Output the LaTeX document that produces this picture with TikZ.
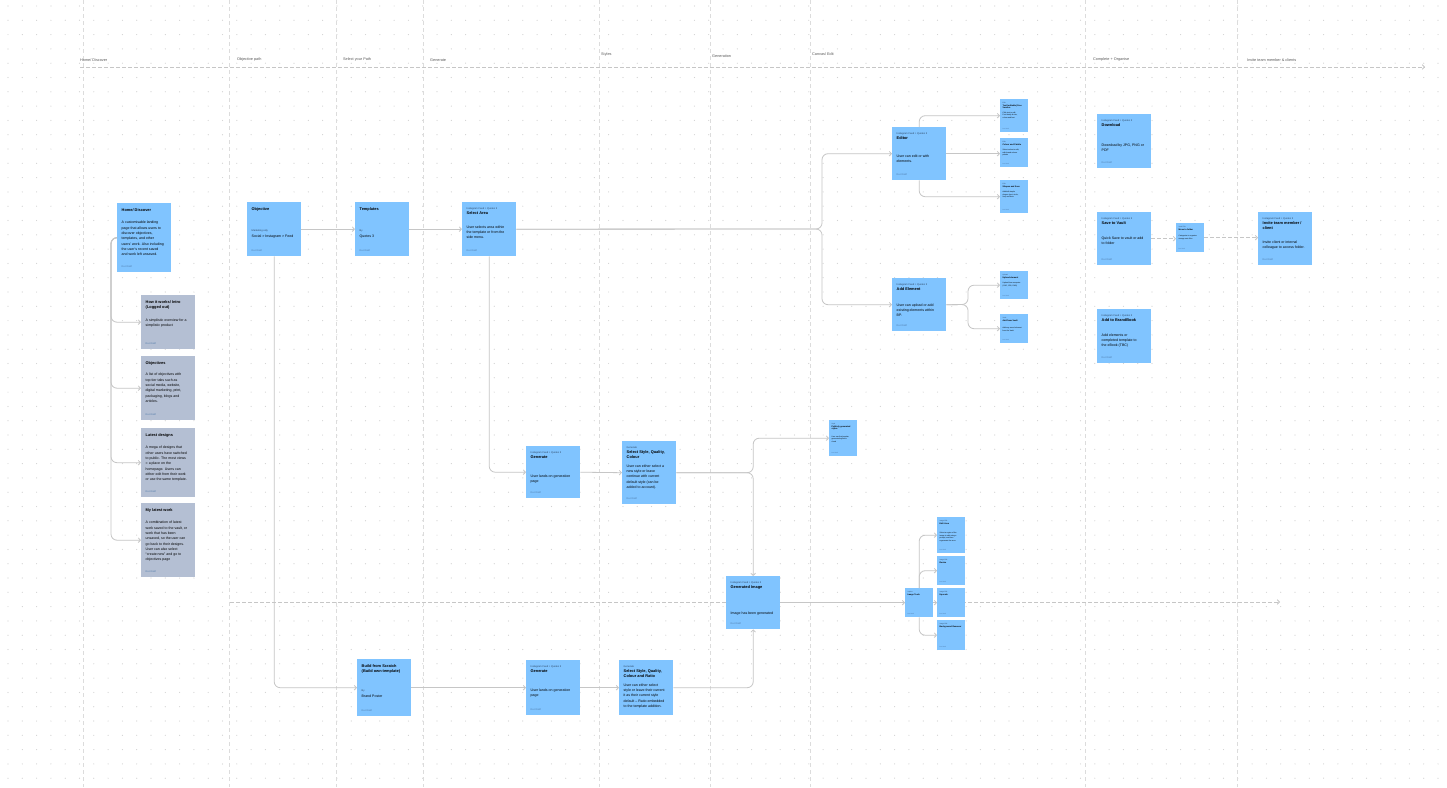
\documentclass[tikz,border=0pt]{standalone}
\usepackage{fontspec}
\setmainfont{Liberation Sans}
\usetikzlibrary{arrows.meta}
\definecolor{stblue}{HTML}{80C4FF}
\definecolor{stgray}{HTML}{B4BFD3}
\definecolor{lanec}{HTML}{DCDCDC}
\definecolor{conncol}{HTML}{C6C6C6}
\definecolor{dotc}{HTML}{D2D2D2}
\definecolor{hdc}{HTML}{2E4663}
\definecolor{ftc}{HTML}{4A76A6}
\newcommand\fixsp{\spaceskip=0pt\xspaceskip=0pt\relax}
\newcommand\sHd[1]{{\fontsize{2.5}{3.2}\selectfont\fixsp\color{hdc}#1\par}}
\newcommand\sTl[1]{{\fontsize{3.9}{5.2}\selectfont\fixsp\bfseries #1\par}}
\newcommand\sBd[1]{{\fontsize{3.55}{5.3}\selectfont\fixsp #1\par}}
\newcommand\xHd[1]{{\fontsize{1.6}{2.1}\selectfont\fixsp\color{hdc}#1\par}}
\newcommand\xTl[1]{{\fontsize{2.1}{2.7}\selectfont\fixsp\bfseries #1\par}}
\newcommand\xBd[1]{{\fontsize{1.8}{2.5}\selectfont\fixsp #1\par}}
\tikzset{
  stbox/.style={anchor=north west, minimum width=54, inner sep=0, draw=none},
  sttxt/.style={anchor=north west, inner sep=0, text width=50pt, align=flush left},
  stfoot/.style={anchor=south west, inner sep=0, font=\fontsize{2.4}{3}\selectfont, text=ftc},
  ssbox/.style={anchor=north west, minimum width=28, inner sep=0, draw=none, fill=stblue},
  sstxt/.style={anchor=north west, inner sep=0, text width=24pt, align=flush left},
  ssfoot/.style={anchor=south west, inner sep=0, font=\fontsize{1.5}{2}\selectfont, text=ftc},
  conn/.style={draw=conncol, line width=0.8pt, rounded corners=6pt, -{Straight Barb[length=2.2pt,width=4.6pt]}},
  dconn/.style={conn, dash pattern=on 3.5pt off 2.5pt},
  lanel/.style={draw=lanec, line width=0.5pt, dash pattern=on 4pt off 3pt},
  lanelbl/.style={anchor=west, inner sep=0, font=\fontsize{3.8}{4.5}\selectfont, text=black!65},
}
\newcommand\stk[7]{%
  \node[stbox, fill=#2, minimum height=#5] (#1) at (#3,#4) {};
  \node[sttxt] (#1t) at (#3+4.5,#4+5.5) {#6};
  \node[stfoot] (#1f) at (#3+4.5,#4+#5-4) {#7};
}
\newcommand\sstk[6]{%
  \node[ssbox, minimum height=#4] (#1) at (#2,#3) {};
  \node[sstxt] (#1t) at (#2+2.5,#3+3) {#5};
  \node[ssfoot] (#1f) at (#2+2.5,#3+#4-2) {#6};
}
\begin{document}
\begin{tikzpicture}[x=1pt,y=-1pt]
\useasboundingbox (0,0) rectangle (1447,787);
\fill[white] (0,0) rectangle (1447,787);
% dot grid
\foreach \i in {0,...,101} {
  \foreach \j in {0,...,55} {
    \fill[dotc] (8+\i*14.3, 6+\j*14.3) circle (0.6);
  }
}
% lanes
\foreach \lx in {83,229,336,423,599,710,810,1085,1237} {
  \draw[lanel] (\lx,0) -- (\lx,787);
}
% lane labels
\node[lanelbl] (l1) at (80,60) {Home/ Discover};
\node[lanelbl] (l2) at (237,60) {Objective path};
\node[lanelbl] (l3) at (343,60) {Select your Path};
\node[lanelbl] (l4) at (430,60) {Generate};
\node[lanelbl] (l5) at (601,55) {Styles};
\node[lanelbl] (l6) at (712,56) {Generation};
\node[lanelbl] (l7) at (812,54) {Canvas/ Edit};
\node[lanelbl] (l8) at (1093,60) {Complete + Organise};
\node[lanelbl] (l9) at (1247,60) {Invite team member \& clients};
% timeline dashed arrows
\coordinate (topS) at (80,67);
\coordinate (topE) at (1425,67);
\draw[dconn] (topS) -- (topE);
\coordinate (midS) at (230,602);
\coordinate (midE) at (1280,602);
\draw[dconn] (midS) -- (midE);

% ---------- Home column ----------
\stk{home}{stblue}{117}{203}{69}{\sTl{Home/ Discover}\vspace{7pt}\sBd{A customisable landing\\page that allows users to\\discover objectives,\\templates, and other\\users' work. Also including\\the user's recent saved\\and work left unsaved.}}{Doc Draft}
\stk{how}{stgray}{141}{295}{54}{\sTl{How it works/ Intro\\(Logged out)}\vspace{7pt}\sBd{A simplistic overview for a\\simplistic product}}{Doc Draft}
\stk{objs}{stgray}{141}{356}{64}{\sTl{Objectives}\vspace{6pt}\sBd{A list of objectives with\\top tier tabs such as\\social media, website,\\digital marketing, print,\\packaging, blogs and\\articles.}}{Doc Draft}
\stk{latest}{stgray}{141}{428}{69}{\sTl{Latest designs}\vspace{7pt}\sBd{A mega of designs that\\other users have switched\\to public. The most views\\= a place on the\\homepage. Users can\\either edit from their work\\or use the same template.}}{Doc Draft}
\stk{mywork}{stgray}{141}{503}{74}{\sTl{My latest work}\vspace{7pt}\sBd{A combination of latest\\work saved to the vault, or\\work that has been\\unsaved, so the user can\\go back to their designs.\\User can also select\\``create new'' and go to\\objectives page}}{Doc Draft}

% ---------- Objective path ----------
\stk{obj}{stblue}{247}{202}{54}{\sTl{Objective}\vspace{18pt}\sHd{Marketing only}\sBd{Social > Instagram > Feed}}{Doc Draft}
\stk{tmpl}{stblue}{355}{202}{54}{\sTl{Templates}\vspace{18pt}\sHd{By}\sBd{Quotes 3}}{Doc Draft}
\stk{sel}{stblue}{462}{202}{54}{\sHd{Instagram Feed > Quotes 3}\sTl{Select Area}\vspace{8pt}\sBd{User selects area within\\the template or from the\\side menu.}}{Doc Draft}

% ---------- Canvas / Edit ----------
\stk{editor}{stblue}{892}{127}{53}{\sHd{Instagram Feed > Quotes 3}\sTl{Editor}\vspace{12pt}\sBd{User can edit or with\\elements.}}{Doc Draft}
\stk{addel}{stblue}{892}{278}{53}{\sHd{Instagram Feed > Quotes 3}\sTl{Add Element}\vspace{10pt}\sBd{User can upload or add\\existing elements within\\BP.}}{Doc Draft}

\sstk{e1}{1000}{99}{33}{\xHd{Edit}\xTl{Text (editable) Free\\Version}\vspace{2pt}\xBd{Click text to edit,\\Font family \& size,\\colour and font}}{Doc Draft}
\sstk{e2}{1000}{138}{29}{\xHd{Edit}\xTl{Colour and Palette}\vspace{3pt}\xBd{Select colour to edit,\\with brand colours\\palette}}{Doc Draft}
\sstk{e3}{1000}{180}{33}{\xHd{Edit}\xTl{Shapes and lines}\vspace{3pt}\xBd{Add/edit simple\\shapes (rect, circle,\\line) and lines}}{Doc Draft}
\sstk{a1}{1000}{271}{28}{\xHd{Upload}\xTl{Upload element}\vspace{3pt}\xBd{Upload from computer\\(SVG, JPG, PNG)}}{Doc Draft}
\sstk{a2}{1000}{314}{29}{\xHd{Vault}\xTl{Add from Vault}\vspace{5pt}\xBd{Add any saved element\\from the Vault}}{Doc Draft}

% ---------- Complete + Organise ----------
\stk{dl}{stblue}{1097}{114}{54}{\sHd{Instagram Feed > Quotes 3}\sTl{Download}\vspace{14pt}\sBd{Download by JPG, PNG or\\PDF}}{Doc Draft}
\stk{save}{stblue}{1097}{212}{53}{\sHd{Instagram Feed > Quotes 3}\sTl{Save to Vault}\vspace{9pt}\sBd{Quick Save to vault or add\\to folder}}{Doc Draft}
\stk{bb}{stblue}{1097}{309}{54}{\sHd{Instagram Feed > Quotes 3}\sTl{Add to BrandBook}\vspace{9pt}\sBd{Add elements or\\completed template to\\the eBook (TBC)}}{Doc Draft}
\sstk{vsm}{1176}{223}{29}{\xHd{Vault/ File}\xTl{Move to folder}\vspace{4pt}\xBd{Categorise to organise\\storage onto files}}{Doc Draft}
\stk{inv}{stblue}{1258}{212}{53}{\sHd{Instagram Feed > Quotes 3}\sTl{Invite team member /\\client}\vspace{8pt}\sBd{Invite client or internal\\colleague to access folder.}}{Doc Draft}

% ---------- Generate / Styles ----------
\stk{gen1}{stblue}{526}{446}{52}{\sHd{Instagram Feed > Quotes 3}\sTl{Generate}\vspace{13pt}\sBd{User lands on generation\\page}}{Doc Draft}
\stk{sty1}{stblue}{622}{441}{63}{\sHd{Generate}\sTl{Select Style, Quality,\\Colour}\vspace{3pt}\sBd{User can either select a\\new style or leave\\continue with current\\default style (can be\\added to account).}}{Doc Draft}
\sstk{pub}{829}{420}{36}{\xHd{Style}\xTl{Publicly generated\\styles}\vspace{5pt}\xBd{User can find popular\\generated styles in\\cloud}}{Doc Draft}

% ---------- Generation ----------
\stk{genimg}{stblue}{726}{576}{53}{\sHd{Instagram Feed > Quotes 3}\sTl{Generated Image}\vspace{20pt}\sBd{Image has been generated}}{Doc Draft}
\sstk{tools}{905}{588}{29}{\xHd{Inpaint}\xTl{Image Tools}}{Doc Draft}
\sstk{t1}{937}{517}{36}{\xHd{Image Edit}\xTl{Edit Area}\vspace{7pt}\xBd{Select a region of the\\image to edit using a\\prompt, and then\\regenerate the area}}{Doc Draft}
\sstk{t2}{937}{556}{29}{\xHd{Image Edit}\xTl{Resize}}{Doc Draft}
\sstk{t3}{937}{588}{29}{\xHd{Image Edit}\xTl{Upscale}}{Doc Draft}
\sstk{t4}{937}{620}{30}{\xHd{Image Edit}\xTl{Background Remover}}{Doc Draft}

% ---------- Build from scratch ----------
\stk{bfs}{stblue}{357}{659}{57}{\sTl{Build from Scratch\\(Build own template)}\vspace{16pt}\sHd{By}\sBd{Brand Poster}}{Doc Draft}
\stk{gen2}{stblue}{526}{660}{55}{\sHd{Instagram Feed > Quotes 3}\sTl{Generate}\vspace{13pt}\sBd{User lands on generation\\page}}{Doc Draft}
\stk{sty2}{stblue}{619}{660}{55}{\sHd{Generate}\sTl{Select Style, Quality,\\Colour and Ratio}\vspace{3pt}\sBd{User can either select\\style or leave their current\\it as their current style\\default -- Ratio embedded\\to the template addition.}}{}

% ---------- connectors ----------
\draw[conn] (home.west) -- ++(-6,0) |- (how.west);
\draw[conn] (home.west) -- ++(-6,0) |- (objs.west);
\draw[conn] (home.west) -- ++(-6,0) |- (latest.west);
\draw[conn] (home.west) -- ++(-6,0) |- (mywork.west);

\draw[conn] (obj.east) -- (tmpl.west);
\draw[conn] (tmpl.east) -- (sel.west);
\coordinate (splitA) at (822,229);
\draw[conn] (sel.east) -- (splitA) |- (editor.west);
\draw[conn] (sel.east) -- (splitA) |- (addel.west);

\draw[conn] (editor.north) |- (e1.west);
\draw[conn] (editor.east) -- (editor.east -| e2.west);
\draw[conn] (editor.south) |- (e3.west);
\coordinate (splitB) at (968,304.5);
\draw[conn] (addel.east) -- (splitB) |- (a1.west);
\draw[conn] (addel.east) -- (splitB) |- (a2.west);

\draw[dconn] (save.east) -- (save.east -| vsm.west);
\draw[dconn] (vsm.east) -- (vsm.east -| inv.west);

\draw[conn] (sel.south) |- (gen1.west);
\draw[conn] (gen1.east) -- (sty1.west);
\draw[conn] (sty1.east) -| (genimg.north);
\draw[conn] (sty1.east) -- (sty1.east -| genimg.north) |- (pub.west);

\draw[conn] (genimg.east) -- (tools.west);
\draw[conn] (tools.north) |- (t1.west);
\draw[conn] (tools.north) |- (t2.west);
\draw[conn] (tools.east) -- (t3.west);
\draw[conn] (tools.south) |- (t4.west);

\draw[conn] (obj.south) |- (bfs.west);
\draw[conn] (bfs.east) -- (gen2.west);
\draw[conn] (gen2.east) -- (sty2.west);
\draw[conn] (sty2.east) -| (genimg.south);
\end{tikzpicture}
\end{document}
